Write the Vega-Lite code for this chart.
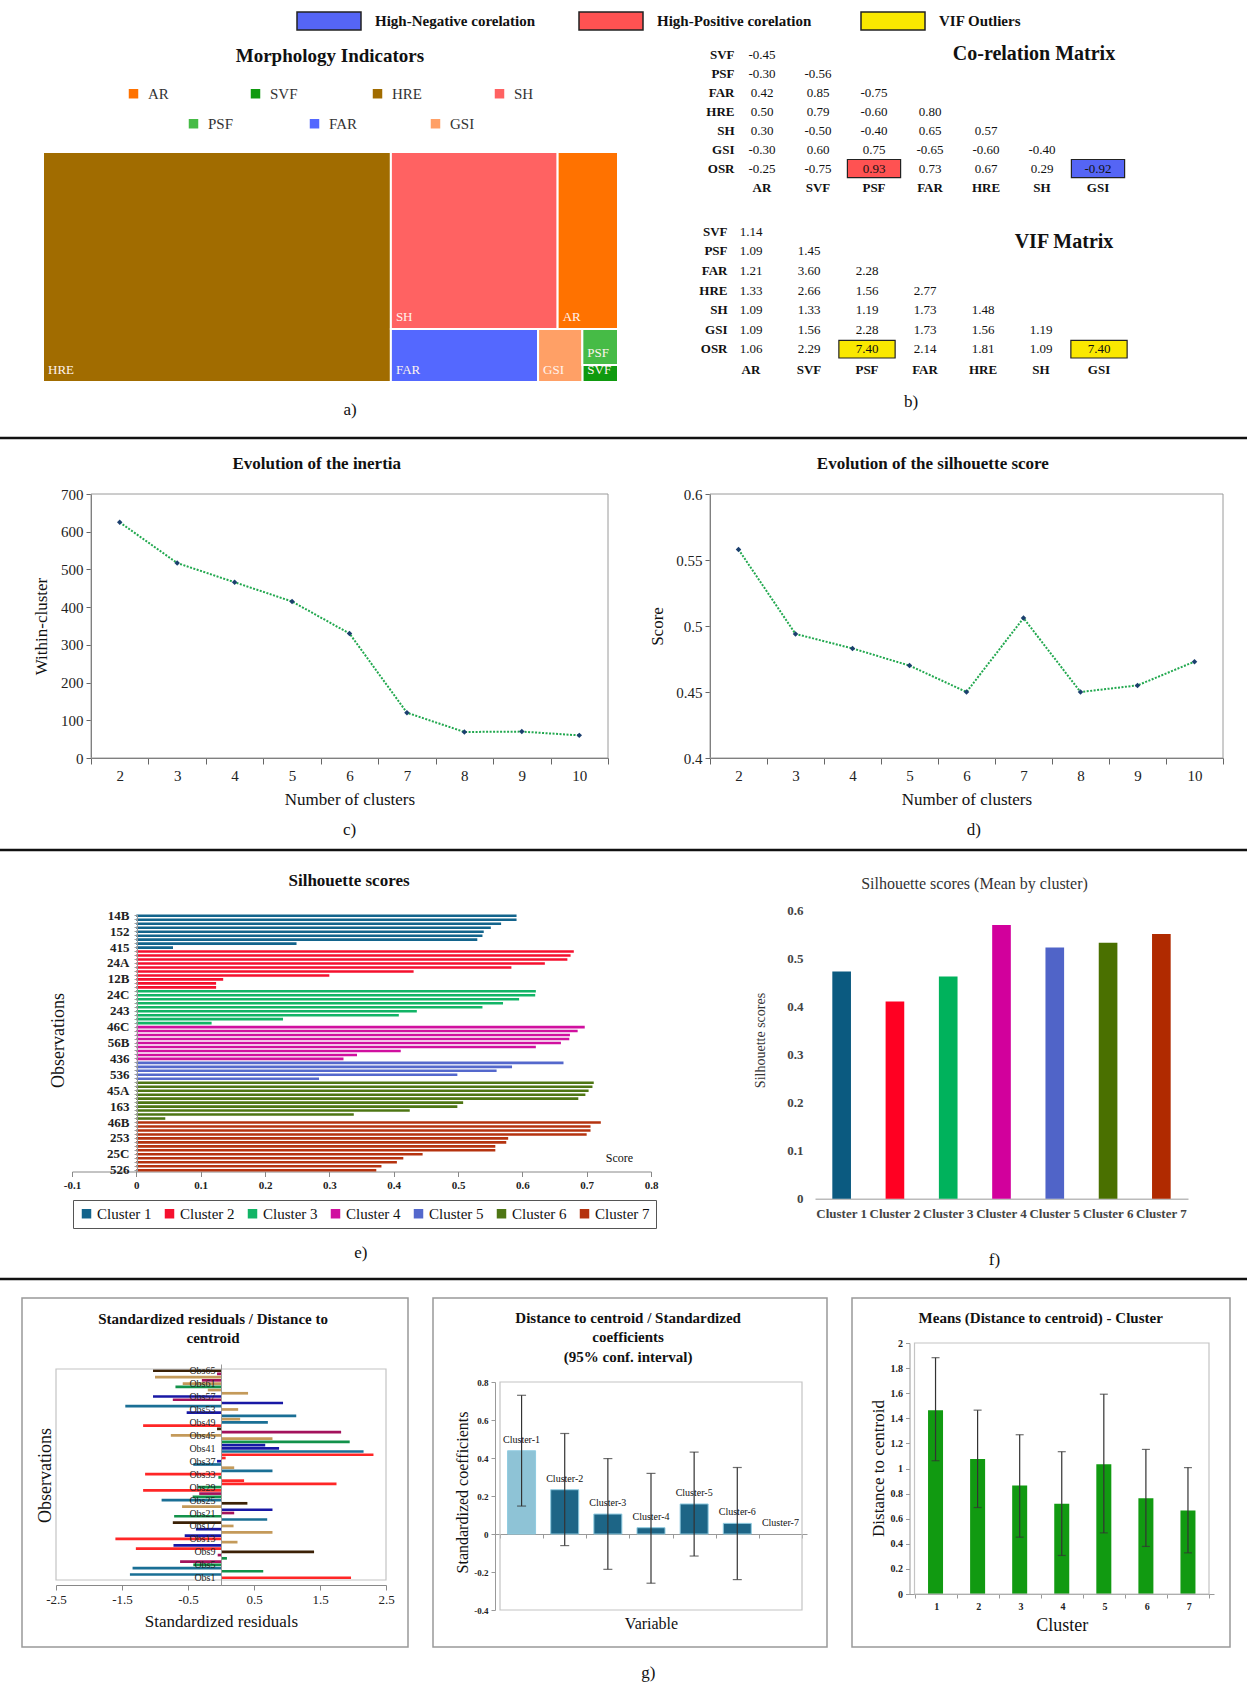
{
"$schema": "https://vega.github.io/schema/vega-lite/v6.json",
"width": 1247, "height": 1685, "autosize": {"type": "none"}, "padding": 0, "background": "white",
"config": {"font": "Liberation Serif", "view": {"stroke": null},
  "locale": {"number": {"decimal": ".", "thousands": ",", "grouping": [3], "currency": ["$", ""], "minus": "-"}},
  "axis": {"labelFont": "Liberation Serif", "titleFont": "Liberation Serif", "grid": false, "titleFontWeight": "normal", "labelColor": "#222", "titleColor": "#111"},
  "legend": {"labelFont": "Liberation Serif", "titleFont": "Liberation Serif"},
  "text": {"font": "Liberation Serif", "color": "#111"}},
"resolve": {"scale": {"x": "independent", "y": "independent", "color": "independent", "fill": "independent"}, "axis": {"x": "independent", "y": "independent"}, "legend": {"color": "independent", "fill": "independent"}},
"layer": [
 {"data": {"values": [{}]}, "mark": {"type": "rect", "fillOpacity": 0, "stroke": "#999", "strokeWidth": 1.5},
  "encoding": {"x": {"datum": 0, "type": "quantitative", "scale": {"domain": [0, 1], "range": [22, 408], "zero": false, "nice": false}, "axis": null}, "x2": {"datum": 1},
   "y": {"datum": 0, "type": "quantitative", "scale": {"domain": [0, 1], "range": [1298, 1647], "zero": false, "nice": false}, "axis": null}, "y2": {"datum": 1}}},
 {"data": {"values": [{}]}, "mark": {"type": "rect", "fillOpacity": 0, "stroke": "#999", "strokeWidth": 1.5},
  "encoding": {"x": {"datum": 0, "type": "quantitative", "scale": {"domain": [0, 1], "range": [433, 827], "zero": false, "nice": false}, "axis": null}, "x2": {"datum": 1},
   "y": {"datum": 0, "type": "quantitative", "scale": {"domain": [0, 1], "range": [1298, 1647], "zero": false, "nice": false}, "axis": null}, "y2": {"datum": 1}}},
 {"data": {"values": [{}]}, "mark": {"type": "rect", "fillOpacity": 0, "stroke": "#999", "strokeWidth": 1.5},
  "encoding": {"x": {"datum": 0, "type": "quantitative", "scale": {"domain": [0, 1], "range": [852, 1230], "zero": false, "nice": false}, "axis": null}, "x2": {"datum": 1},
   "y": {"datum": 0, "type": "quantitative", "scale": {"domain": [0, 1], "range": [1298, 1647], "zero": false, "nice": false}, "axis": null}, "y2": {"datum": 1}}},

 {"data": {"values": [
   {"ind": "HRE", "x0": 0, "x1": 0.605, "y0": 0, "y1": 1},
   {"ind": "SH", "x0": 0.605, "x1": 0.895, "y0": 0, "y1": 0.77},
   {"ind": "AR", "x0": 0.895, "x1": 1, "y0": 0, "y1": 0.77},
   {"ind": "FAR", "x0": 0.605, "x1": 0.861, "y0": 0.77, "y1": 1},
   {"ind": "GSI", "x0": 0.861, "x1": 0.938, "y0": 0.77, "y1": 1},
   {"ind": "PSF", "x0": 0.938, "x1": 1, "y0": 0.77, "y1": 0.926},
   {"ind": "SVF", "x0": 0.938, "x1": 1, "y0": 0.926, "y1": 1}]},
  "resolve": {"scale": {"color": "independent"}, "legend": {"color": "independent"}},
  "layer": [
   {"transform": [{"filter": {"field": "ind", "oneOf": ["AR", "SVF", "HRE", "SH"]}}],
    "mark": {"type": "rect", "stroke": "white", "strokeWidth": 2},
    "encoding": {
     "x": {"field": "x0", "type": "quantitative", "scale": {"domain": [0, 1], "range": [43, 618], "zero": false, "nice": false}, "axis": null},
     "x2": {"field": "x1"},
     "y": {"field": "y0", "type": "quantitative", "scale": {"domain": [0, 1], "range": [152, 382], "zero": false, "nice": false}, "axis": null},
     "y2": {"field": "y1"},
     "color": {"field": "ind", "type": "nominal", "scale": {"domain": ["AR", "SVF", "HRE", "SH"], "range": ["#FF7200", "#0F9A0F", "#A16C00", "#FF6262"]},
      "legend": {"title": null, "orient": "none", "legendX": 126, "legendY": 86, "direction": "horizontal", "columns": 4, "gridAlign": "all", "columnPadding": 70, "symbolType": "square", "symbolSize": 90, "symbolStrokeWidth": 0, "labelFontSize": 15, "labelOffset": 7, "labelColor": "#333"}}}},
   {"transform": [{"filter": {"field": "ind", "oneOf": ["PSF", "FAR", "GSI"]}}],
    "mark": {"type": "rect", "stroke": "white", "strokeWidth": 2},
    "encoding": {
     "x": {"field": "x0", "type": "quantitative", "axis": null},
     "x2": {"field": "x1"},
     "y": {"field": "y0", "type": "quantitative", "axis": null},
     "y2": {"field": "y1"},
     "color": {"field": "ind", "type": "nominal", "scale": {"domain": ["PSF", "FAR", "GSI"], "range": ["#46BB46", "#5468FF", "#FFA066"]},
      "legend": {"title": null, "orient": "none", "legendX": 186, "legendY": 116, "direction": "horizontal", "columns": 3, "gridAlign": "all", "columnPadding": 70, "symbolType": "square", "symbolSize": 90, "symbolStrokeWidth": 0, "labelFontSize": 15, "labelOffset": 7, "labelColor": "#333"}}}},
   {"mark": {"type": "text", "align": "left", "baseline": "bottom", "dx": 5, "dy": -5, "color": "#FFF4EE", "fontSize": 13},
    "encoding": {"x": {"field": "x0", "type": "quantitative", "axis": null}, "y": {"field": "y1", "type": "quantitative", "axis": null}, "text": {"field": "ind"}}},
   {"data": {"values": [{}]}, "mark": {"type": "text", "fontSize": 19, "fontWeight": "bold", "baseline": "middle"},
    "encoding": {"x": {"datum": 0.499, "type": "quantitative", "axis": null}, "y": {"datum": -0.4174, "type": "quantitative", "axis": null}, "text": {"value": "Morphology Indicators"}}},
   {"data": {"values": [{}]}, "mark": {"type": "text", "fontSize": 17, "baseline": "middle"},
    "encoding": {"x": {"datum": 0.534, "type": "quantitative", "axis": null}, "y": {"datum": 1.1217, "type": "quantitative", "axis": null}, "text": {"value": "a)"}}}
  ]},

 {"resolve": {"scale": {"x": "independent", "y": "independent"}, "axis": {"x": "independent", "y": "independent"}},
  "layer": [
   {"data": {"values": [
     {"row": "SVF", "col": "AR", "v": -0.45},
     {"row": "PSF", "col": "AR", "v": -0.30}, {"row": "PSF", "col": "SVF", "v": -0.56},
     {"row": "FAR", "col": "AR", "v": 0.42}, {"row": "FAR", "col": "SVF", "v": 0.85}, {"row": "FAR", "col": "PSF", "v": -0.75},
     {"row": "HRE", "col": "AR", "v": 0.50}, {"row": "HRE", "col": "SVF", "v": 0.79}, {"row": "HRE", "col": "PSF", "v": -0.60}, {"row": "HRE", "col": "FAR", "v": 0.80},
     {"row": "SH", "col": "AR", "v": 0.30}, {"row": "SH", "col": "SVF", "v": -0.50}, {"row": "SH", "col": "PSF", "v": -0.40}, {"row": "SH", "col": "FAR", "v": 0.65}, {"row": "SH", "col": "HRE", "v": 0.57},
     {"row": "GSI", "col": "AR", "v": -0.30}, {"row": "GSI", "col": "SVF", "v": 0.60}, {"row": "GSI", "col": "PSF", "v": 0.75}, {"row": "GSI", "col": "FAR", "v": -0.65}, {"row": "GSI", "col": "HRE", "v": -0.60}, {"row": "GSI", "col": "SH", "v": -0.40},
     {"row": "OSR", "col": "AR", "v": -0.25}, {"row": "OSR", "col": "SVF", "v": -0.75}, {"row": "OSR", "col": "PSF", "v": 0.93, "flag": "High-Positive corelation"}, {"row": "OSR", "col": "FAR", "v": 0.73}, {"row": "OSR", "col": "HRE", "v": 0.67}, {"row": "OSR", "col": "SH", "v": 0.29}, {"row": "OSR", "col": "GSI", "v": -0.92, "flag": "High-Negative corelation"}]},
    "layer": [
     {"transform": [{"filter": "datum.flag != null"}],
      "mark": {"type": "rect", "stroke": "#222", "strokeWidth": 1.2},
      "encoding": {
       "x": {"field": "col", "type": "nominal", "scale": {"domain": ["AR", "SVF", "PSF", "FAR", "HRE", "SH", "GSI"], "range": [734, 1126], "paddingInner": 0.05, "paddingOuter": 0.025},
        "axis": {"orient": "bottom", "offset": -1507, "title": null, "domain": false, "ticks": false, "labelAngle": 0, "labelFontSize": 13, "labelFontWeight": "bold", "labelColor": "#111", "labelPadding": 3}},
       "y": {"field": "row", "type": "nominal", "scale": {"domain": ["SVF", "PSF", "FAR", "HRE", "SH", "GSI", "OSR"], "range": [45, 178], "paddingInner": 0.05, "paddingOuter": 0.025},
        "axis": {"orient": "left", "offset": -738, "title": null, "domain": false, "ticks": false, "labelFontSize": 13, "labelFontWeight": "bold", "labelColor": "#111", "labelPadding": 4}},
       "fill": {"field": "flag", "type": "nominal", "scale": {"domain": ["High-Negative corelation", "High-Positive corelation", "VIF Outliers"], "range": ["#5565F5", "#FF5252", "#FAE800"]},
        "legend": {"title": null, "orient": "none", "legendX": 296, "legendY": -12, "direction": "horizontal", "columns": 3, "gridAlign": "all", "columnPadding": 40, "symbolType": "M-1,-0.28H1V0.28H-1Z", "symbolSize": 4096, "symbolStrokeColor": "#222", "symbolStrokeWidth": 1.5, "labelFontSize": 15, "labelFontWeight": "bold", "labelOffset": 13, "labelColor": "#111", "labelLimit": 0}}}},
     {"mark": {"type": "text", "fontSize": 13, "baseline": "middle"},
      "encoding": {"x": {"field": "col", "type": "nominal"}, "y": {"field": "row", "type": "nominal"}, "text": {"field": "v", "type": "quantitative", "format": ".2f"}}},
     {"data": {"values": [{}]}, "mark": {"type": "text", "fontSize": 20, "fontWeight": "bold", "baseline": "middle", "dx": 48, "dy": -1},
      "encoding": {"x": {"datum": "HRE", "type": "nominal"}, "y": {"datum": "SVF", "type": "nominal"}, "text": {"value": "Co-relation Matrix"}}}
    ]},
   {"data": {"values": [
     {"row": "SVF", "col": "AR", "v": 1.14},
     {"row": "PSF", "col": "AR", "v": 1.09}, {"row": "PSF", "col": "SVF", "v": 1.45},
     {"row": "FAR", "col": "AR", "v": 1.21}, {"row": "FAR", "col": "SVF", "v": 3.60}, {"row": "FAR", "col": "PSF", "v": 2.28},
     {"row": "HRE", "col": "AR", "v": 1.33}, {"row": "HRE", "col": "SVF", "v": 2.66}, {"row": "HRE", "col": "PSF", "v": 1.56}, {"row": "HRE", "col": "FAR", "v": 2.77},
     {"row": "SH", "col": "AR", "v": 1.09}, {"row": "SH", "col": "SVF", "v": 1.33}, {"row": "SH", "col": "PSF", "v": 1.19}, {"row": "SH", "col": "FAR", "v": 1.73}, {"row": "SH", "col": "HRE", "v": 1.48},
     {"row": "GSI", "col": "AR", "v": 1.09}, {"row": "GSI", "col": "SVF", "v": 1.56}, {"row": "GSI", "col": "PSF", "v": 2.28}, {"row": "GSI", "col": "FAR", "v": 1.73}, {"row": "GSI", "col": "HRE", "v": 1.56}, {"row": "GSI", "col": "SH", "v": 1.19},
     {"row": "OSR", "col": "AR", "v": 1.06}, {"row": "OSR", "col": "SVF", "v": 2.29}, {"row": "OSR", "col": "PSF", "v": 7.40, "flag": "VIF Outliers"}, {"row": "OSR", "col": "FAR", "v": 2.14}, {"row": "OSR", "col": "HRE", "v": 1.81}, {"row": "OSR", "col": "SH", "v": 1.09}, {"row": "OSR", "col": "GSI", "v": 7.40, "flag": "VIF Outliers"}]},
    "layer": [
     {"transform": [{"filter": "datum.flag != null"}],
      "mark": {"type": "rect", "stroke": "#222", "strokeWidth": 1.2},
      "encoding": {
       "x": {"field": "col", "type": "nominal", "scale": {"domain": ["AR", "SVF", "PSF", "FAR", "HRE", "SH", "GSI"], "range": [722, 1128], "paddingInner": 0.03, "paddingOuter": 0.015},
        "axis": {"orient": "bottom", "offset": -1326, "title": null, "domain": false, "ticks": false, "labelAngle": 0, "labelFontSize": 13, "labelFontWeight": "bold", "labelColor": "#111", "labelPadding": 4}},
       "y": {"field": "row", "type": "nominal", "scale": {"domain": ["SVF", "PSF", "FAR", "HRE", "SH", "GSI", "OSR"], "range": [222, 359], "paddingInner": 0.1, "paddingOuter": 0.05},
        "axis": {"orient": "left", "offset": -731, "title": null, "domain": false, "ticks": false, "labelFontSize": 13, "labelFontWeight": "bold", "labelColor": "#111", "labelPadding": 4}},
       "fill": {"field": "flag", "type": "nominal", "scale": {"domain": ["High-Negative corelation", "High-Positive corelation", "VIF Outliers"], "range": ["#5565F5", "#FF5252", "#FAE800"]},
        "legend": {"title": null, "orient": "none", "legendX": 296, "legendY": -12, "direction": "horizontal", "columns": 3, "gridAlign": "all", "columnPadding": 40, "symbolType": "M-1,-0.28H1V0.28H-1Z", "symbolSize": 4096, "symbolStrokeColor": "#222", "symbolStrokeWidth": 1.5, "labelFontSize": 15, "labelFontWeight": "bold", "labelOffset": 13, "labelColor": "#111", "labelLimit": 0}}}},
     {"mark": {"type": "text", "fontSize": 13, "baseline": "middle"},
      "encoding": {"x": {"field": "col", "type": "nominal"}, "y": {"field": "row", "type": "nominal"}, "text": {"field": "v", "type": "quantitative", "format": ".2f"}}},
     {"data": {"values": [{}]}, "mark": {"type": "text", "fontSize": 20, "fontWeight": "bold", "baseline": "middle", "dx": 23, "dy": 10},
      "encoding": {"x": {"datum": "SH", "type": "nominal"}, "y": {"datum": "SVF", "type": "nominal"}, "text": {"value": "VIF Matrix"}}},
     {"data": {"values": [{}]}, "mark": {"type": "text", "fontSize": 17, "baseline": "middle", "dx": 44, "dy": 53},
      "encoding": {"x": {"datum": "PSF", "type": "nominal"}, "y": {"datum": "OSR", "type": "nominal"}, "text": {"value": "b)"}}}
    ]}
  ]},

 {"data": {"values": [{"k": 2, "w": 625}, {"k": 3, "w": 517}, {"k": 4, "w": 466}, {"k": 5, "w": 415}, {"k": 6, "w": 330}, {"k": 7, "w": 120}, {"k": 8, "w": 69}, {"k": 9, "w": 70}, {"k": 10, "w": 60}]},
  "layer": [
   {"mark": {"type": "line", "color": "#22A84F", "strokeDash": [2, 1.5], "strokeWidth": 2},
    "encoding": {
     "x": {"field": "k", "type": "quantitative", "scale": {"domain": [1.5, 10.5], "range": [91, 608], "zero": false, "nice": false},
      "axis": {"orient": "bottom", "offset": -927, "values": [1.5, 2.5, 3.5, 4.5, 5.5, 6.5, 7.5, 8.5, 9.5, 10.5], "labelExpr": "datum.value < 10 ? format(datum.value + 0.5, 'd') : ''", "labelOffset": 28.7, "labelFlush": false, "labelOverlap": false, "labelFontSize": 15, "labelPadding": 4, "tickSize": 6, "tickColor": "#666", "domainColor": "#666", "title": "Number of clusters", "titleFontSize": 17, "titlePadding": 8}},
     "y": {"field": "w", "type": "quantitative", "scale": {"domain": [0, 700], "range": [758, 494], "zero": false, "nice": false},
      "axis": {"orient": "left", "offset": -91, "values": [0, 100, 200, 300, 400, 500, 600, 700], "labelFontSize": 15, "labelPadding": 3, "tickSize": 5, "tickColor": "#666", "domainColor": "#666", "title": "Within-cluster", "titleFontSize": 17, "titlePadding": 10}}}},
   {"data": {"values": [{}]}, "mark": {"type": "rect", "fillOpacity": 0, "stroke": "#9a9a9a", "strokeWidth": 1},
    "encoding": {"x": {"datum": 1.5, "type": "quantitative"}, "x2": {"datum": 10.5}, "y": {"datum": 0, "type": "quantitative"}, "y2": {"datum": 700}}},
   {"mark": {"type": "point", "shape": "diamond", "filled": true, "size": 30, "color": "#1B3F6E", "opacity": 1},
    "encoding": {"x": {"field": "k", "type": "quantitative"}, "y": {"field": "w", "type": "quantitative"}}},
   {"data": {"values": [{}]}, "mark": {"type": "text", "fontSize": 17, "fontWeight": "bold", "baseline": "middle"},
    "encoding": {"x": {"datum": 5.43, "type": "quantitative"}, "y": {"datum": 779.5, "type": "quantitative"}, "text": {"value": "Evolution of the inertia"}}},
   {"data": {"values": [{}]}, "mark": {"type": "text", "fontSize": 17, "baseline": "middle"},
    "encoding": {"x": {"datum": 6, "type": "quantitative"}, "y": {"datum": -190.9, "type": "quantitative"}, "text": {"value": "c)"}}},
   {"data": {"values": [{}]}, "mark": {"type": "rule", "color": "#111", "strokeWidth": 2.5},
    "encoding": {"y": {"datum": 848.5, "type": "quantitative"}}},
   {"data": {"values": [{}]}, "mark": {"type": "rule", "color": "#111", "strokeWidth": 2.5},
    "encoding": {"y": {"datum": -243.9, "type": "quantitative"}}}
  ]},

 {"data": {"values": [{"k": 2, "s": 0.558}, {"k": 3, "s": 0.494}, {"k": 4, "s": 0.483}, {"k": 5, "s": 0.470}, {"k": 6, "s": 0.450}, {"k": 7, "s": 0.506}, {"k": 8, "s": 0.450}, {"k": 9, "s": 0.455}, {"k": 10, "s": 0.473}]},
  "layer": [
   {"mark": {"type": "line", "color": "#22A84F", "strokeDash": [2, 1.5], "strokeWidth": 2},
    "encoding": {
     "x": {"field": "k", "type": "quantitative", "scale": {"domain": [1.5, 10.5], "range": [710, 1223], "zero": false, "nice": false},
      "axis": {"orient": "bottom", "offset": -927, "values": [1.5, 2.5, 3.5, 4.5, 5.5, 6.5, 7.5, 8.5, 9.5, 10.5], "labelExpr": "datum.value < 10 ? format(datum.value + 0.5, 'd') : ''", "labelOffset": 28.5, "labelFlush": false, "labelOverlap": false, "labelFontSize": 15, "labelPadding": 4, "tickSize": 6, "tickColor": "#666", "domainColor": "#666", "title": "Number of clusters", "titleFontSize": 17, "titlePadding": 8}},
     "y": {"field": "s", "type": "quantitative", "scale": {"domain": [0.4, 0.6], "range": [758, 494], "zero": false, "nice": false},
      "axis": {"orient": "left", "offset": -710, "values": [0.4, 0.45, 0.5, 0.55, 0.6], "format": "~g", "labelFontSize": 15, "labelPadding": 3, "tickSize": 5, "tickColor": "#666", "domainColor": "#666", "title": "Score", "titleFontSize": 17, "titlePadding": 9}}}},
   {"data": {"values": [{}]}, "mark": {"type": "rect", "fillOpacity": 0, "stroke": "#9a9a9a", "strokeWidth": 1},
    "encoding": {"x": {"datum": 1.5, "type": "quantitative"}, "x2": {"datum": 10.5}, "y": {"datum": 0.4, "type": "quantitative"}, "y2": {"datum": 0.6}}},
   {"mark": {"type": "point", "shape": "diamond", "filled": true, "size": 30, "color": "#1B3F6E", "opacity": 1},
    "encoding": {"x": {"field": "k", "type": "quantitative"}, "y": {"field": "s", "type": "quantitative"}}},
   {"data": {"values": [{}]}, "mark": {"type": "text", "fontSize": 17, "fontWeight": "bold", "baseline": "middle"},
    "encoding": {"x": {"datum": 5.41, "type": "quantitative"}, "y": {"datum": 0.6227, "type": "quantitative"}, "text": {"value": "Evolution of the silhouette score"}}},
   {"data": {"values": [{}]}, "mark": {"type": "text", "fontSize": 17, "baseline": "middle"},
    "encoding": {"x": {"datum": 6.13, "type": "quantitative"}, "y": {"datum": 0.3455, "type": "quantitative"}, "text": {"value": "d)"}}}
  ]},

 {"data": {"values": [
   {"obs": "14B", "cl": "Cluster 1", "s": 0.591}, {"obs": "~2", "cl": "Cluster 1", "s": 0.591}, {"obs": "~3", "cl": "Cluster 1", "s": 0.567}, {"obs": "~4", "cl": "Cluster 1", "s": 0.551},
   {"obs": "152", "cl": "Cluster 1", "s": 0.540}, {"obs": "~6", "cl": "Cluster 1", "s": 0.538}, {"obs": "~7", "cl": "Cluster 1", "s": 0.530}, {"obs": "~8", "cl": "Cluster 1", "s": 0.249},
   {"obs": "415", "cl": "Cluster 1", "s": 0.057},
   {"obs": "~10", "cl": "Cluster 2", "s": 0.680}, {"obs": "~11", "cl": "Cluster 2", "s": 0.675}, {"obs": "~12", "cl": "Cluster 2", "s": 0.670}, {"obs": "24A", "cl": "Cluster 2", "s": 0.635},
   {"obs": "~14", "cl": "Cluster 2", "s": 0.583}, {"obs": "~15", "cl": "Cluster 2", "s": 0.431}, {"obs": "~16", "cl": "Cluster 2", "s": 0.300}, {"obs": "12B", "cl": "Cluster 2", "s": 0.135},
   {"obs": "~18", "cl": "Cluster 2", "s": 0.124}, {"obs": "~19", "cl": "Cluster 2", "s": 0.124},
   {"obs": "~20", "cl": "Cluster 3", "s": 0.621}, {"obs": "24C", "cl": "Cluster 3", "s": 0.620}, {"obs": "~22", "cl": "Cluster 3", "s": 0.595}, {"obs": "~23", "cl": "Cluster 3", "s": 0.570},
   {"obs": "~24", "cl": "Cluster 3", "s": 0.538}, {"obs": "243", "cl": "Cluster 3", "s": 0.436}, {"obs": "~26", "cl": "Cluster 3", "s": 0.408}, {"obs": "~27", "cl": "Cluster 3", "s": 0.228},
   {"obs": "~28", "cl": "Cluster 3", "s": 0.117},
   {"obs": "46C", "cl": "Cluster 4", "s": 0.697}, {"obs": "~30", "cl": "Cluster 4", "s": 0.686}, {"obs": "~31", "cl": "Cluster 4", "s": 0.674}, {"obs": "~32", "cl": "Cluster 4", "s": 0.673},
   {"obs": "56B", "cl": "Cluster 4", "s": 0.660}, {"obs": "~34", "cl": "Cluster 4", "s": 0.621}, {"obs": "~35", "cl": "Cluster 4", "s": 0.411}, {"obs": "~36", "cl": "Cluster 4", "s": 0.343},
   {"obs": "436", "cl": "Cluster 4", "s": 0.322},
   {"obs": "~38", "cl": "Cluster 5", "s": 0.664}, {"obs": "~39", "cl": "Cluster 5", "s": 0.584}, {"obs": "~40", "cl": "Cluster 5", "s": 0.560}, {"obs": "536", "cl": "Cluster 5", "s": 0.499},
   {"obs": "~42", "cl": "Cluster 5", "s": 0.284},
   {"obs": "~43", "cl": "Cluster 6", "s": 0.711}, {"obs": "~44", "cl": "Cluster 6", "s": 0.709}, {"obs": "45A", "cl": "Cluster 6", "s": 0.703}, {"obs": "~46", "cl": "Cluster 6", "s": 0.698},
   {"obs": "~47", "cl": "Cluster 6", "s": 0.687}, {"obs": "~48", "cl": "Cluster 6", "s": 0.508}, {"obs": "163", "cl": "Cluster 6", "s": 0.499}, {"obs": "~50", "cl": "Cluster 6", "s": 0.425},
   {"obs": "~51", "cl": "Cluster 6", "s": 0.338}, {"obs": "~52", "cl": "Cluster 6", "s": 0.045},
   {"obs": "46B", "cl": "Cluster 7", "s": 0.722}, {"obs": "~54", "cl": "Cluster 7", "s": 0.706}, {"obs": "~55", "cl": "Cluster 7", "s": 0.706}, {"obs": "~56", "cl": "Cluster 7", "s": 0.700},
   {"obs": "253", "cl": "Cluster 7", "s": 0.578}, {"obs": "~58", "cl": "Cluster 7", "s": 0.575}, {"obs": "~59", "cl": "Cluster 7", "s": 0.558}, {"obs": "~60", "cl": "Cluster 7", "s": 0.558},
   {"obs": "25C", "cl": "Cluster 7", "s": 0.445}, {"obs": "~62", "cl": "Cluster 7", "s": 0.415}, {"obs": "~63", "cl": "Cluster 7", "s": 0.405}, {"obs": "~64", "cl": "Cluster 7", "s": 0.381},
   {"obs": "526", "cl": "Cluster 7", "s": 0.373}]},
  "layer": [
   {"mark": {"type": "bar"},
    "encoding": {
     "y": {"field": "obs", "type": "nominal", "sort": null, "scale": {"range": [914.5, 1171.5], "paddingInner": 0.35, "paddingOuter": 0},
      "axis": {"orient": "left", "offset": -137, "labelExpr": "indexof(datum.value, '~') == 0 ? '' : datum.value", "labelOverlap": false, "labelFontSize": 13, "labelFontWeight": "bold", "labelPadding": 5, "tickSize": 3, "tickColor": "#999", "domainColor": "#999", "zindex": 1,
       "title": "Observations", "titleFontSize": 18, "titleX": -79, "titleY": 1040, "titleAngle": -90, "titleAlign": "center", "titleBaseline": "middle"}},
     "x": {"field": "s", "type": "quantitative", "scale": {"domain": [-0.1, 0.8], "range": [72, 651], "zero": false, "nice": false},
      "axis": {"orient": "bottom", "offset": -513.5, "values": [-0.1, 0, 0.1, 0.2, 0.3, 0.4, 0.5, 0.6, 0.7, 0.8], "format": ".1~f", "labelFlush": false, "labelFontSize": 11, "labelFontWeight": "bold", "labelPadding": 3, "tickSize": 5, "tickColor": "#888", "domainColor": "#888",
       "title": "Score", "titleFontSize": 12, "titleX": 619, "titleY": -14, "titleAlign": "center", "titleBaseline": "middle"}},
     "color": {"field": "cl", "type": "nominal", "scale": {"domain": ["Cluster 1", "Cluster 2", "Cluster 3", "Cluster 4", "Cluster 5", "Cluster 6", "Cluster 7"], "range": ["#13648C", "#F5102E", "#12B466", "#D0109F", "#5468CC", "#4E7614", "#B5330F"]},
      "legend": {"title": null, "orient": "none", "legendX": 73, "legendY": 1200, "direction": "horizontal", "columns": 7, "gridAlign": "all", "columnPadding": 10, "symbolType": "square", "symbolSize": 90, "symbolStrokeWidth": 0, "labelFontSize": 15, "labelOffset": 3, "labelColor": "#111", "strokeColor": "#555", "padding": 6}}}},
   {"data": {"values": [{}]}, "mark": {"type": "text", "fontSize": 17, "fontWeight": "bold", "baseline": "middle", "dy": -35},
    "encoding": {"x": {"datum": 0.3306, "type": "quantitative"}, "y": {"datum": "14B", "type": "nominal"}, "text": {"value": "Silhouette scores"}}},
   {"data": {"values": [{}]}, "mark": {"type": "text", "fontSize": 17, "baseline": "middle", "dy": 83},
    "encoding": {"x": {"datum": 0.349, "type": "quantitative"}, "y": {"datum": "526", "type": "nominal"}, "text": {"value": "e)"}}}
  ]},

 {"data": {"values": [
   {"cl": "Cluster 1", "m": 0.472}, {"cl": "Cluster 2", "m": 0.410}, {"cl": "Cluster 3", "m": 0.462}, {"cl": "Cluster 4", "m": 0.569},
   {"cl": "Cluster 5", "m": 0.522}, {"cl": "Cluster 6", "m": 0.532}, {"cl": "Cluster 7", "m": 0.550}]},
  "layer": [
   {"mark": {"type": "bar"},
    "encoding": {
     "x": {"field": "cl", "type": "nominal", "scale": {"domain": ["Cluster 1", "Cluster 2", "Cluster 3", "Cluster 4", "Cluster 5", "Cluster 6", "Cluster 7"], "range": [815, 1188], "paddingInner": 0.65, "paddingOuter": 0.325},
      "axis": {"orient": "bottom", "offset": -486.3, "title": null, "ticks": false, "domainColor": "#bbb", "domainWidth": 1.5, "labelAngle": 0, "labelFontSize": 13, "labelFontWeight": "bold", "labelColor": "#444", "labelPadding": 9, "labelOverlap": false, "labelLimit": 0}},
     "y": {"field": "m", "type": "quantitative", "scale": {"domain": [0, 0.6], "range": [1198.7, 910], "zero": false, "nice": false},
      "axis": {"orient": "left", "offset": -815, "values": [0, 0.1, 0.2, 0.3, 0.4, 0.5, 0.6], "format": "~g", "domain": false, "ticks": false, "labelPadding": 12, "labelFontSize": 13, "labelFontWeight": "bold", "labelColor": "#444",
       "title": "Silhouette scores", "titleFontSize": 14, "titleColor": "#333", "titleX": -55, "titleY": 1040, "titleAngle": -90, "titleAlign": "center", "titleBaseline": "middle"}},
     "color": {"field": "cl", "type": "nominal", "scale": {"domain": ["Cluster 1", "Cluster 2", "Cluster 3", "Cluster 4", "Cluster 5", "Cluster 6", "Cluster 7"], "range": ["#0B5A80", "#FF0022", "#00B25C", "#D2009C", "#5064C8", "#4A7000", "#B02A00"]}, "legend": null}}},
   {"data": {"values": [{}]}, "mark": {"type": "text", "fontSize": 16, "color": "#333", "baseline": "middle", "dx": -27, "dy": -26},
    "encoding": {"x": {"datum": "Cluster 4", "type": "nominal"}, "y": {"datum": 0.6, "type": "quantitative"}, "text": {"value": "Silhouette scores (Mean by cluster)"}}},
   {"data": {"values": [{}]}, "mark": {"type": "text", "fontSize": 17, "baseline": "middle", "dx": -7, "dy": 61},
    "encoding": {"x": {"datum": "Cluster 4", "type": "nominal"}, "y": {"datum": 0, "type": "quantitative"}, "text": {"value": "f)"}}},
   {"data": {"values": [{}]}, "mark": {"type": "rule", "color": "#111", "strokeWidth": 2.5},
    "encoding": {"y": {"datum": -0.1669, "type": "quantitative"}}}
  ]},

 {"data": {"values": [
   {"obs": 1, "r": 1.97, "cl": 2}, {"obs": 2, "r": -1.38, "cl": 1}, {"obs": 3, "r": 0.64, "cl": 3}, {"obs": 4, "r": -1.34, "cl": 1}, {"obs": 5, "r": -0.42, "cl": 3},
   {"obs": 6, "r": -0.62, "cl": 4}, {"obs": 7, "r": 0.09, "cl": 3}, {"obs": 8, "r": -0.05, "cl": 4}, {"obs": 9, "r": 1.41, "cl": 7}, {"obs": 10, "r": -1.29, "cl": 2},
   {"obs": 11, "r": -0.72, "cl": 5}, {"obs": 12, "r": 0.25, "cl": 6}, {"obs": 13, "r": -1.60, "cl": 2}, {"obs": 14, "r": -0.55, "cl": 5}, {"obs": 15, "r": 0.78, "cl": 6},
   {"obs": 16, "r": -0.38, "cl": 5}, {"obs": 17, "r": 0.19, "cl": 6}, {"obs": 18, "r": -0.73, "cl": 7}, {"obs": 19, "r": 0.70, "cl": 1}, {"obs": 20, "r": -0.71, "cl": 3},
   {"obs": 21, "r": 0.20, "cl": 4}, {"obs": 22, "r": 0.78, "cl": 5}, {"obs": 23, "r": -0.59, "cl": 6}, {"obs": 24, "r": 0.40, "cl": 7}, {"obs": 25, "r": -0.90, "cl": 1},
   {"obs": 26, "r": -0.43, "cl": 3}, {"obs": 27, "r": -0.33, "cl": 4}, {"obs": 28, "r": -1.18, "cl": 2}, {"obs": 29, "r": -0.35, "cl": 3}, {"obs": 30, "r": 1.75, "cl": 2},
   {"obs": 31, "r": 0.35, "cl": 2}, {"obs": 32, "r": -0.04, "cl": 3}, {"obs": 33, "r": -1.15, "cl": 2}, {"obs": 34, "r": 0.78, "cl": 1}, {"obs": 35, "r": 0.20, "cl": 6},
   {"obs": 36, "r": -0.42, "cl": 1}, {"obs": 37, "r": -0.06, "cl": 5}, {"obs": 38, "r": 0.07, "cl": 2}, {"obs": 39, "r": 2.31, "cl": 2}, {"obs": 40, "r": 2.16, "cl": 1},
   {"obs": 41, "r": 0.88, "cl": 5}, {"obs": 42, "r": 0.67, "cl": 5}, {"obs": 43, "r": 1.95, "cl": 3}, {"obs": 44, "r": 0.78, "cl": 6}, {"obs": 45, "r": -0.76, "cl": 6},
   {"obs": 46, "r": 1.82, "cl": 4}, {"obs": 47, "r": -0.06, "cl": 7}, {"obs": 48, "r": -1.18, "cl": 2}, {"obs": 49, "r": 0.71, "cl": 1}, {"obs": 50, "r": 0.29, "cl": 6},
   {"obs": 51, "r": 1.14, "cl": 1}, {"obs": 52, "r": -0.52, "cl": 5}, {"obs": 53, "r": 0.26, "cl": 6}, {"obs": 54, "r": -1.45, "cl": 1}, {"obs": 55, "r": 0.94, "cl": 5},
   {"obs": 56, "r": -0.73, "cl": 4}, {"obs": 57, "r": -1.03, "cl": 5}, {"obs": 58, "r": 0.41, "cl": 6}, {"obs": 59, "r": -0.20, "cl": 6}, {"obs": 60, "r": -0.69, "cl": 3},
   {"obs": 61, "r": -0.58, "cl": 6}, {"obs": 62, "r": -0.29, "cl": 4}, {"obs": 63, "r": -1.00, "cl": 6}, {"obs": 64, "r": -0.06, "cl": 4}, {"obs": 65, "r": -1.03, "cl": 7}]},
  "layer": [
   {"mark": {"type": "bar", "orient": "horizontal", "size": 2.7},
    "encoding": {
     "y": {"field": "obs", "type": "quantitative", "scale": {"domain": [0.3, 65.5], "range": [1585, 1364], "zero": false, "nice": false},
      "axis": {"orient": "left", "offset": -221, "values": [1, 5, 9, 13, 17, 21, 25, 29, 33, 37, 41, 45, 49, 53, 57, 61, 65], "labelExpr": "'Obs' + datum.value", "labelFontSize": 10, "labelColor": "#222", "ticks": false, "domainColor": "#9a9a9a", "labelPadding": 6, "zindex": 1,
       "title": "Observations", "titleFontSize": 18, "titleX": -176, "titleY": 1475, "titleAngle": -90, "titleAlign": "center", "titleBaseline": "middle"}},
     "x": {"field": "r", "type": "quantitative", "scale": {"domain": [-2.5, 2.5], "range": [56, 386], "zero": false, "nice": false},
      "axis": {"orient": "bottom", "offset": -100, "values": [-2.5, -1.5, -0.5, 0.5, 1.5, 2.5], "format": ".1f", "labelFlush": false, "labelFontSize": 13, "labelPadding": 3, "tickSize": 5, "tickColor": "#888", "domainColor": "#888", "title": "Standardized residuals", "titleFontSize": 17, "titlePadding": 7}},
     "color": {"field": "cl", "type": "nominal", "scale": {"domain": [1, 2, 3, 4, 5, 6, 7], "range": ["#1A6F95", "#FF2626", "#12924A", "#A3125C", "#1818A5", "#C49A5A", "#3B2106"]}, "legend": null}}},
   {"data": {"values": [{}]}, "mark": {"type": "rect", "fillOpacity": 0, "stroke": "#c4c4c4", "strokeWidth": 1.2},
    "encoding": {"x": {"datum": -2.5, "type": "quantitative"}, "x2": {"datum": 2.5}, "y": {"datum": 0.3, "type": "quantitative"}, "y2": {"datum": 65.5}}},
   {"data": {"values": [{}]}, "mark": {"type": "text", "fontSize": 15, "fontWeight": "bold", "baseline": "top", "lineHeight": 19},
    "encoding": {"x": {"datum": -0.12, "type": "quantitative"}, "y": {"datum": 83.2, "type": "quantitative"}, "text": {"value": ["Standardized residuals / Distance to", "centroid"]}}}
  ]},

 {"data": {"values": [
   {"k": 1, "cluster": "Cluster-1", "coef": 0.438, "lo": 0.147, "hi": 0.730},
   {"k": 2, "cluster": "Cluster-2", "coef": 0.233, "lo": -0.061, "hi": 0.529},
   {"k": 3, "cluster": "Cluster-3", "coef": 0.105, "lo": -0.186, "hi": 0.397},
   {"k": 4, "cluster": "Cluster-4", "coef": 0.033, "lo": -0.259, "hi": 0.319},
   {"k": 5, "cluster": "Cluster-5", "coef": 0.158, "lo": -0.116, "hi": 0.431},
   {"k": 6, "cluster": "Cluster-6", "coef": 0.056, "lo": -0.240, "hi": 0.350},
   {"k": 7, "cluster": "Cluster-7", "coef": 0, "lo": null, "hi": null}]},
  "layer": [
   {"transform": [{"filter": "datum.coef > 0"}],
    "mark": {"type": "bar", "orient": "vertical", "size": 28, "stroke": "#8FCBE0", "strokeWidth": 1},
    "encoding": {
     "x": {"field": "k", "type": "quantitative", "scale": {"domain": [0.5, 7.5], "range": [495, 807], "zero": false, "nice": false},
      "axis": {"orient": "bottom", "offset": -151, "values": [0.5, 1.5, 2.5, 3.5, 4.5, 5.5, 6.5, 7.5], "labels": false, "tickSize": 4, "tickColor": "#999", "domainColor": "#999",
       "title": "Variable", "titleFontSize": 16, "titleX": 651, "titleY": 89, "titleAlign": "center", "titleBaseline": "middle"}},
     "y": {"field": "coef", "type": "quantitative", "title": "Standardized coefficients", "scale": {"domain": [-0.4, 0.8], "range": [1610, 1382], "zero": false, "nice": false},
      "axis": {"orient": "left", "offset": -495, "values": [-0.4, -0.2, 0, 0.2, 0.4, 0.6, 0.8], "format": "~g", "labelFontSize": 9, "labelFontWeight": "bold", "labelPadding": 3, "tickSize": 4, "tickColor": "#999", "domainColor": "#999",
       "title": "Standardized coefficients", "titleFontSize": 16, "titleX": -33, "titleY": 1492, "titleAngle": -90, "titleAlign": "center", "titleBaseline": "middle"}},
     "fill": {"condition": {"test": "datum.k == 1", "value": "#8EC3D6"}, "value": "#1D6586"}}},
   {"data": {"values": [{}]}, "mark": {"type": "rect", "fillOpacity": 0, "stroke": "#c4c4c4", "strokeWidth": 1.2},
    "encoding": {"x": {"datum": 0.5, "type": "quantitative"}, "x2": {"datum": 7.5}, "y": {"datum": -0.4, "type": "quantitative", "title": "Standardized coefficients"}, "y2": {"datum": 0.8}}},
   {"transform": [{"filter": "datum.lo != null"}],
    "mark": {"type": "errorbar", "ticks": {"size": 9, "color": "#333"}, "rule": {"color": "#333"}, "thickness": 1.2},
    "encoding": {"x": {"field": "k", "type": "quantitative"}, "y": {"field": "lo", "type": "quantitative", "title": "Standardized coefficients"}, "y2": {"field": "hi"}}},
   {"mark": {"type": "text", "fontSize": 10, "baseline": "middle", "dy": -11},
    "encoding": {"x": {"field": "k", "type": "quantitative"}, "y": {"field": "coef", "type": "quantitative", "title": "Standardized coefficients"}, "text": {"field": "cluster"}}},
   {"data": {"values": [{}]}, "mark": {"type": "text", "fontSize": 15, "fontWeight": "bold", "baseline": "top", "lineHeight": 19.5},
    "encoding": {"x": {"datum": 3.47, "type": "quantitative"}, "y": {"datum": 1.176, "type": "quantitative", "title": "Standardized coefficients"}, "text": {"value": ["Distance to centroid / Standardized", "coefficients", "(95% conf. interval)"]}}},
   {"data": {"values": [{}]}, "mark": {"type": "text", "fontSize": 17, "baseline": "middle"},
    "encoding": {"x": {"datum": 3.94, "type": "quantitative"}, "y": {"datum": -0.7316, "type": "quantitative", "title": "Standardized coefficients"}, "text": {"value": "g)"}}}
  ]},

 {"data": {"values": [
   {"k": 1, "mean": 1.465, "lo": 1.062, "hi": 1.883},
   {"k": 2, "mean": 1.075, "lo": 0.689, "hi": 1.465},
   {"k": 3, "mean": 0.864, "lo": 0.453, "hi": 1.269},
   {"k": 4, "mean": 0.720, "lo": 0.307, "hi": 1.134},
   {"k": 5, "mean": 1.033, "lo": 0.487, "hi": 1.592},
   {"k": 6, "mean": 0.763, "lo": 0.379, "hi": 1.152},
   {"k": 7, "mean": 0.665, "lo": 0.328, "hi": 1.007}]},
  "layer": [
   {"mark": {"type": "bar", "orient": "vertical", "size": 15, "color": "#119A11"},
    "encoding": {
     "x": {"field": "k", "type": "quantitative", "scale": {"domain": [0.5, 7.5], "range": [909.5, 1214], "zero": false, "nice": false},
      "axis": {"orient": "bottom", "offset": -91, "values": [0.5, 1.5, 2.5, 3.5, 4.5, 5.5, 6.5, 7.5], "labelExpr": "datum.value < 7 ? format(datum.value + 0.5, 'd') : ''", "labelOffset": 21.8, "labelFlush": false, "labelOverlap": false, "labelFontSize": 10, "labelFontWeight": "bold", "labelPadding": 3, "tickSize": 4, "tickColor": "#999", "domainColor": "#999",
       "title": "Cluster", "titleFontSize": 18, "titlePadding": 5}},
     "y": {"field": "mean", "type": "quantitative", "title": "Distance to centroid", "scale": {"domain": [0, 2], "range": [1594, 1343], "zero": false, "nice": false},
      "axis": {"orient": "left", "offset": -909.5, "values": [0, 0.2, 0.4, 0.6, 0.8, 1, 1.2, 1.4, 1.6, 1.8, 2], "format": "~g", "labelFontSize": 10, "labelFontWeight": "bold", "labelPadding": 3, "tickSize": 4, "tickColor": "#999", "domainColor": "#999",
       "title": "Distance to centroid", "titleFontSize": 17, "titleX": -31, "titleY": 1468, "titleAngle": -90, "titleAlign": "center", "titleBaseline": "middle"}}}},
   {"data": {"values": [{}]}, "mark": {"type": "rect", "fillOpacity": 0, "stroke": "#c4c4c4", "strokeWidth": 1.2},
    "encoding": {"x": {"datum": 0.5, "type": "quantitative"}, "x2": {"datum": 7.5}, "y": {"datum": 0, "type": "quantitative", "title": "Distance to centroid"}, "y2": {"datum": 2}}},
   {"mark": {"type": "errorbar", "ticks": {"size": 8, "color": "#333"}, "rule": {"color": "#333"}, "thickness": 1.2},
    "encoding": {"x": {"field": "k", "type": "quantitative"}, "y": {"field": "lo", "type": "quantitative", "title": "Distance to centroid"}, "y2": {"field": "hi"}}},
   {"data": {"values": [{}]}, "mark": {"type": "text", "fontSize": 15, "fontWeight": "bold", "baseline": "middle"},
    "encoding": {"x": {"datum": 3.5, "type": "quantitative"}, "y": {"datum": 2.199, "type": "quantitative", "title": "Distance to centroid"}, "text": {"value": "Means (Distance to centroid) - Cluster"}}}
  ]}
]
}
